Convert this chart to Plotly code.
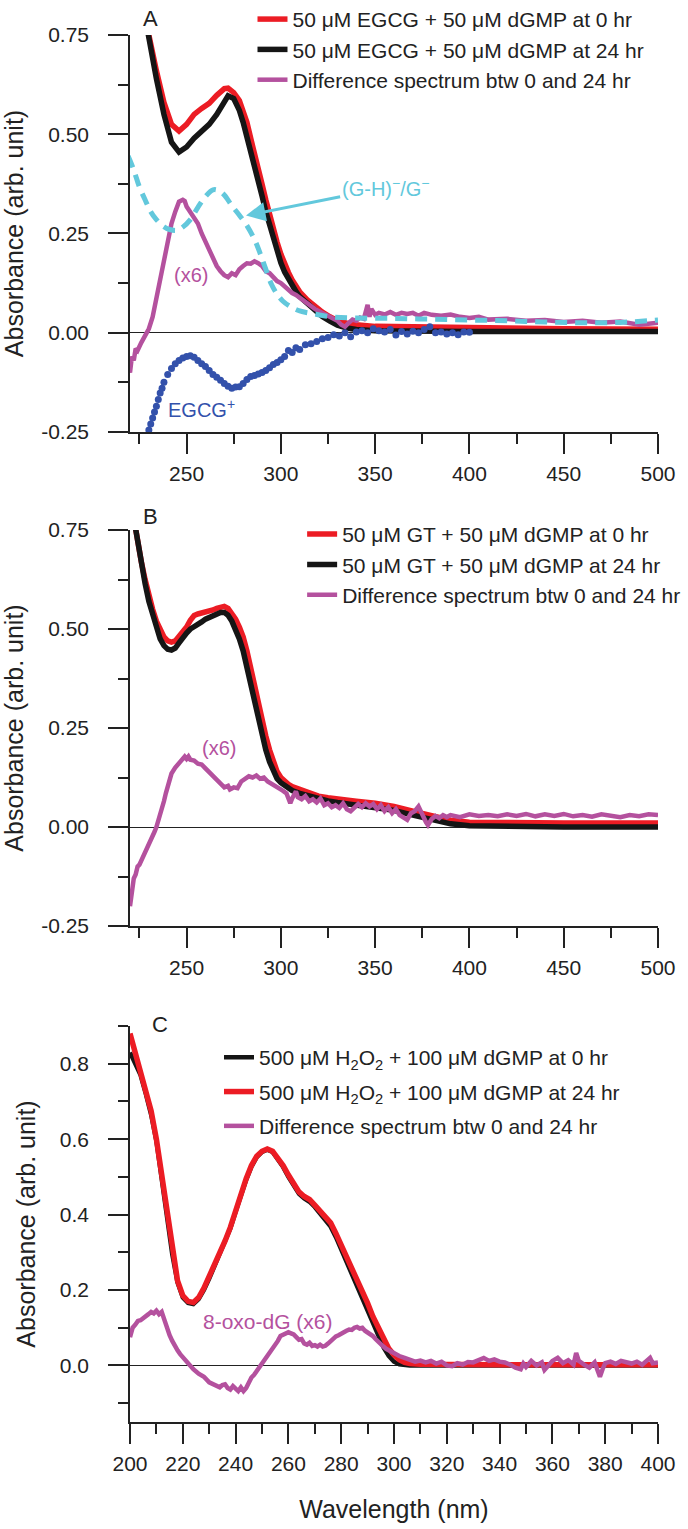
import plotly.graph_objects as go

# ---------------- Panel A data ----------------
wl_A_main = [222, 226, 230, 234, 238, 242, 246, 250, 254, 258, 262, 266, 270, 272, 275, 278, 280, 282, 284, 286,
             288, 290, 292, 294, 296, 298, 300, 302, 304, 306, 308, 310, 314, 318, 322, 326, 330, 335, 340, 350,
             360, 380, 400, 420, 450, 500]
A_red_0hr = [0.95, 0.84, 0.75, 0.66, 0.58, 0.525, 0.508, 0.525, 0.55, 0.565, 0.578, 0.598, 0.615, 0.616, 0.605,
             0.585, 0.56, 0.53, 0.49, 0.455, 0.415, 0.375, 0.335, 0.295, 0.26, 0.228, 0.198, 0.172, 0.152, 0.133,
             0.117, 0.103, 0.083, 0.066, 0.052, 0.04, 0.031, 0.024, 0.02, 0.016, 0.015, 0.013, 0.013, 0.012,
             0.01, 0.009]
A_black_24hr = [0.95, 0.84, 0.74, 0.64, 0.55, 0.48, 0.455, 0.468, 0.49, 0.51, 0.525, 0.55, 0.585, 0.597, 0.59,
                0.56, 0.53, 0.495, 0.455, 0.42, 0.383, 0.345, 0.305, 0.27, 0.24, 0.207, 0.176, 0.153, 0.135,
                0.118, 0.104, 0.091, 0.073, 0.056, 0.041, 0.029, 0.019, 0.012, 0.008, 0.005, 0.004, 0.003,
                0.003, 0.003, 0.003, 0.003]

wl_A_diff = [219, 220, 221, 222, 223, 224, 226, 228, 230, 232, 234, 236, 238, 240, 242, 244, 246, 248, 249, 250,
             252, 254, 256, 258, 260, 262, 264, 266, 268, 270, 272, 274, 276, 278, 280, 282, 284, 286, 288, 290,
             292, 294, 296, 298, 300, 302, 304, 306, 308, 310, 312, 314, 316, 318, 320, 322, 324, 326, 328, 330,
             332, 334, 336, 338, 340, 342, 344, 346, 347, 348, 350, 352, 355, 358, 361, 364, 367, 370, 373, 376,
             380, 385, 390, 395, 400, 405, 410, 420, 430, 440, 450, 460, 470, 480, 490, 500]
A_diff_x6 = [-0.09, -0.10, -0.06, -0.07, -0.04, -0.045, -0.025, -0.01, 0.01, 0.04, 0.085, 0.135, 0.185, 0.23,
             0.275, 0.305, 0.33, 0.335, 0.332, 0.318, 0.305, 0.29, 0.275, 0.25, 0.23, 0.205, 0.185, 0.168, 0.155,
             0.145, 0.14, 0.15, 0.145, 0.16, 0.168, 0.175, 0.174, 0.18, 0.175, 0.168, 0.155, 0.15, 0.14, 0.13,
             0.125, 0.116, 0.11, 0.10, 0.095, 0.088, 0.08, 0.072, 0.065, 0.06, 0.055, 0.05, 0.048, 0.04, 0.035,
             0.03, 0.02, 0.015, 0.025, 0.033, 0.03, 0.038, 0.035, 0.07, 0.04, 0.06, 0.045, 0.05, 0.046, 0.052,
             0.045, 0.05, 0.047, 0.05, 0.043, 0.05, 0.045, 0.043, 0.046, 0.04, 0.037, 0.04, 0.033, 0.035, 0.03,
             0.032, 0.027, 0.03, 0.025, 0.028, 0.02, 0.025]

wl_A_anion = [219, 222, 225, 228, 231, 234, 238, 241, 245, 248, 252, 256, 260, 264, 267, 270, 274, 278, 282, 286,
              289, 292, 295, 298, 301, 305, 310, 317, 327, 340, 360, 380, 400, 420, 440, 460, 480, 500]
A_anion = [0.445, 0.41, 0.367, 0.335, 0.305, 0.285, 0.267, 0.26, 0.258, 0.266, 0.285, 0.316, 0.343, 0.36, 0.358,
           0.347, 0.32, 0.296, 0.27, 0.235, 0.20, 0.16, 0.122, 0.097, 0.08, 0.066, 0.055, 0.048, 0.04, 0.037,
           0.036, 0.034, 0.032, 0.03, 0.027, 0.025, 0.026, 0.032]

wl_A_cation = [230, 231, 232, 233, 234, 235, 236, 237, 238, 240, 242, 244, 246, 248, 250, 252, 254, 256, 258, 260,
               262, 264, 266, 268, 270, 272, 274, 276, 278, 280, 282, 284, 286, 288, 290, 292, 294, 296, 298, 300,
               302, 304, 306, 308, 310, 313, 316, 319, 322, 325, 328, 331, 334, 337, 340, 343, 346, 349, 352, 355,
               358, 361, 364, 367, 370, 373, 376, 379, 382, 385, 388, 391, 394, 397, 400]
A_cation = [-0.245, -0.23, -0.215, -0.2, -0.185, -0.168, -0.152, -0.14, -0.125, -0.105, -0.09, -0.078, -0.07,
            -0.064, -0.06, -0.058, -0.062, -0.07, -0.078, -0.085, -0.095, -0.105, -0.112, -0.12, -0.128, -0.135,
            -0.14, -0.137, -0.136, -0.128, -0.118, -0.11, -0.108, -0.104, -0.1, -0.095, -0.088, -0.08, -0.075,
            -0.068, -0.06, -0.045, -0.05, -0.038, -0.042, -0.03, -0.028, -0.022, -0.015, -0.012, -0.005, -0.008,
            0.0, -0.01, 0.002, 0.005, 0.0, 0.01, 0.005, 0.002, 0.008, -0.006, 0.003, -0.003, 0.004, 0.0, 0.008,
            0.015, 0.0, 0.002, -0.003, 0.0, -0.005, 0.002, 0.001]

# ---------------- Panel B data ----------------
wl_B_main = [222, 224, 226, 228, 230, 232, 234, 236, 238, 240, 242, 244, 246, 248, 250, 252, 254, 256, 258, 260,
             262, 264, 266, 268, 270, 272, 274, 276, 278, 280, 282, 284, 286, 288, 290, 292, 294, 296, 298, 300,
             302, 304, 306, 310, 315, 320, 325, 330, 340, 350, 360, 370, 380, 390, 400, 420, 450, 500]
B_red_0hr = [0.78, 0.72, 0.67, 0.625, 0.585, 0.55, 0.52, 0.497, 0.48, 0.47, 0.467, 0.47, 0.48, 0.49, 0.505, 0.522,
             0.534, 0.538, 0.54, 0.542, 0.545, 0.548, 0.552, 0.556, 0.557, 0.552, 0.54, 0.525, 0.505, 0.48, 0.445,
             0.40, 0.355, 0.31, 0.27, 0.23, 0.195, 0.165, 0.14, 0.125, 0.115, 0.108, 0.102, 0.095, 0.085, 0.078,
             0.074, 0.07, 0.065, 0.06, 0.052, 0.04, 0.028, 0.017, 0.012, 0.01, 0.01, 0.01]
B_black_24hr = [0.78, 0.72, 0.665, 0.615, 0.57, 0.535, 0.50, 0.475, 0.458, 0.449, 0.447, 0.452, 0.465, 0.48, 0.49,
                0.50, 0.505, 0.51, 0.518, 0.525, 0.53, 0.535, 0.538, 0.542, 0.542, 0.535, 0.52, 0.50, 0.475, 0.445,
                0.405, 0.36, 0.315, 0.27, 0.23, 0.195, 0.165, 0.14, 0.122, 0.112, 0.105, 0.098, 0.092, 0.085,
                0.078, 0.07, 0.066, 0.062, 0.056, 0.05, 0.042, 0.03, 0.018, 0.008, 0.003, 0.001, 0.0, 0.0]

wl_B_diff = [220, 221, 222, 223, 224, 225, 226, 227, 228, 229, 230, 231, 232, 233, 234, 235, 236, 237, 238, 239,
             240, 241, 242, 244, 246, 248, 249, 250, 251, 252, 254, 256, 258, 260, 262, 264, 266, 268, 270, 272,
             273, 275, 277, 279, 281, 283, 285, 287, 289, 291, 293, 295, 297, 299, 301, 303, 305, 306, 308, 309,
             311, 313, 315, 317, 319, 321, 323, 325, 327, 329, 331, 333, 335, 337, 339, 341, 343, 345, 347, 349,
             351, 353, 355, 357, 359, 361, 363, 365, 367, 369, 371, 373, 375, 377, 378, 380, 382, 384, 386, 388,
             390, 395, 400, 405, 410, 415, 420, 425, 430, 435, 440, 445, 450, 455, 460, 465, 470, 475, 480, 485,
             490, 495, 500]
B_diff_x6 = [-0.20, -0.17, -0.13, -0.12, -0.10, -0.095, -0.085, -0.075, -0.068, -0.055, -0.045, -0.035, -0.022,
             -0.012, 0.0, 0.015, 0.03, 0.048, 0.065, 0.085, 0.105, 0.12, 0.135, 0.15, 0.162, 0.172, 0.178, 0.172,
             0.178, 0.17, 0.168, 0.16, 0.158, 0.148, 0.138, 0.128, 0.118, 0.108, 0.10, 0.104, 0.095, 0.10, 0.098,
             0.115, 0.122, 0.128, 0.125, 0.13, 0.122, 0.125, 0.115, 0.11, 0.105, 0.098, 0.092, 0.085, 0.06, 0.072,
             0.09, 0.075, 0.07, 0.078, 0.065, 0.07, 0.062, 0.072, 0.055, 0.06, 0.05, 0.055, 0.048, 0.06, 0.045,
             0.04, 0.05, 0.058, 0.05, 0.06, 0.052, 0.058, 0.045, 0.055, 0.04, 0.05, 0.035, 0.045, 0.03, 0.025,
             0.018, 0.035, 0.04, 0.052, 0.03, 0.012, 0.005, 0.02, 0.028, 0.022, 0.03, 0.025, 0.03, 0.025, 0.032,
             0.028, 0.03, 0.027, 0.032, 0.028, 0.033, 0.027, 0.032, 0.028, 0.033, 0.027, 0.03, 0.026, 0.032,
             0.028, 0.025, 0.03, 0.027, 0.032, 0.03]

# ---------------- Panel C data ----------------
wl_C_main = [200, 202, 204, 206, 208, 210, 212, 214, 216, 218, 220, 222, 224, 226, 228, 230, 232, 234, 236, 238,
             240, 242, 244, 246, 248, 250, 252, 254, 256, 258, 260, 262, 264, 266, 268, 270, 272, 274, 276, 278,
             280, 282, 284, 286, 288, 290, 292, 294, 296, 298, 300, 302, 304, 306, 310, 320, 340, 360, 380, 400]
C_black_0hr = [0.83, 0.80, 0.77, 0.72, 0.665, 0.595, 0.495, 0.395, 0.295, 0.22, 0.18, 0.166, 0.163, 0.176, 0.20,
               0.23, 0.262, 0.294, 0.327, 0.363, 0.407, 0.452, 0.492, 0.527, 0.552, 0.566, 0.572, 0.566, 0.547,
               0.526, 0.50, 0.477, 0.455, 0.443, 0.434, 0.42, 0.404, 0.388, 0.368, 0.34, 0.308, 0.272, 0.24,
               0.208, 0.18, 0.145, 0.11, 0.078, 0.048, 0.025, 0.01, 0.003, 0.001, 0.0, 0.0, 0.0, 0.0, 0.0, 0.0, 0.0]
C_red_24hr = [0.88, 0.83, 0.785, 0.73, 0.675, 0.60, 0.50, 0.40, 0.30, 0.225, 0.185, 0.17, 0.167, 0.18, 0.205,
              0.235, 0.265, 0.297, 0.33, 0.366, 0.41, 0.455, 0.495, 0.53, 0.555, 0.568, 0.574, 0.568, 0.55, 0.53,
              0.505, 0.482, 0.46, 0.448, 0.44, 0.425, 0.41, 0.395, 0.378, 0.35, 0.32, 0.285, 0.255, 0.225, 0.20,
              0.165, 0.13, 0.10, 0.07, 0.045, 0.028, 0.015, 0.008, 0.005, 0.003, 0.002, 0.002, 0.002, 0.002, 0.002]

wl_C_diff = [200, 201, 202, 203, 204, 205, 206, 207, 208, 209, 210, 211, 212, 213, 214, 215, 216, 217, 218, 219,
             220, 221, 222, 223, 224, 226, 228, 230, 232, 234, 235, 236, 237, 238, 239, 240, 241, 242, 243, 244,
             245, 246, 247, 248, 249, 250, 251, 252, 253, 254, 255, 256, 257, 258, 259, 260, 261, 262, 263, 264,
             265, 266, 267, 268, 269, 270, 271, 272, 273, 274, 275, 276, 277, 278, 279, 280, 281, 282, 283, 284,
             285, 286, 287, 288, 289, 290, 291, 292, 293, 294, 295, 296, 297, 298, 299, 300, 302, 304, 306, 308,
             310, 312, 314, 316, 318, 320, 322, 324, 326, 328, 330, 332, 334, 336, 338, 340, 342, 344, 346, 348,
             349, 350, 352, 354, 356, 357, 358, 360, 362, 364, 366, 368, 369, 370, 372, 374, 376, 378, 379, 380,
             382, 384, 386, 388, 390, 392, 394, 396, 397, 398, 400]
C_diff_x6 = [0.075, 0.10, 0.108, 0.118, 0.12, 0.125, 0.128, 0.136, 0.142, 0.138, 0.145, 0.136, 0.142, 0.118, 0.10,
             0.08, 0.065, 0.05, 0.04, 0.03, 0.022, 0.016, 0.005, -0.002, -0.01, -0.022, -0.03, -0.045, -0.05,
             -0.058, -0.052, -0.05, -0.06, -0.064, -0.055, -0.062, -0.068, -0.058, -0.068, -0.06, -0.045, -0.032,
             -0.025, -0.015, -0.005, 0.005, 0.012, 0.022, 0.03, 0.04, 0.05, 0.065, 0.078, 0.082, 0.086, 0.088,
             0.085, 0.082, 0.075, 0.068, 0.07, 0.058, 0.055, 0.06, 0.052, 0.054, 0.05, 0.055, 0.05, 0.052, 0.058,
             0.065, 0.072, 0.077, 0.08, 0.085, 0.088, 0.092, 0.095, 0.094, 0.10, 0.102, 0.098, 0.10, 0.092, 0.088,
             0.083, 0.078, 0.07, 0.062, 0.055, 0.05, 0.044, 0.04, 0.035, 0.033, 0.025, 0.02, 0.015, 0.01, 0.013,
             0.008, 0.012, 0.005, 0.01, 0.0, -0.002, 0.006, 0.002, 0.009, 0.008, 0.014, 0.02, 0.012, 0.016, 0.01,
             0.008, 0.002, -0.006, -0.01, 0.005, -0.004, 0.012, 0.0, 0.008, -0.012, -0.004, 0.012, 0.02, 0.006,
             0.014, 0.002, 0.033, 0.012, 0.002, -0.006, 0.008, -0.03, -0.01, 0.006, 0.01, 0.004, 0.012, 0.008,
             0.005, 0.01, 0.002, 0.014, 0.02, 0.006, 0.008]

# ---------------- Axis ticks / labels ----------------
x_ticks_AB = [250, 300, 350, 400, 450, 500]
x_ticklabels_AB = ["250", "300", "350", "400", "450", "500"]
x_minor_AB = [225, 275, 325, 375, 425, 475]
y_ticks_AB = [-0.25, 0.0, 0.25, 0.5, 0.75]
y_ticklabels_AB = ["-0.25", "0.00", "0.25", "0.50", "0.75"]
y_minor_AB = [-0.125, 0.125, 0.375, 0.625]
x_ticks_C = [200, 220, 240, 260, 280, 300, 320, 340, 360, 380, 400]
x_ticklabels_C = [str(v) for v in x_ticks_C]
x_minor_C = [210, 230, 250, 270, 290, 310, 330, 350, 370, 390]
y_ticks_C = [0.0, 0.2, 0.4, 0.6, 0.8]
y_ticklabels_C = ["0.0", "0.2", "0.4", "0.6", "0.8"]
y_minor_C = [-0.1, 0.1, 0.3, 0.5, 0.7, 0.9]

RED = "#ec1c24"
BLACK = "#151515"
MAGENTA = "#b4519e"
CYAN = "#62c8dc"
BLUE = "#3351ab"
AX = "#222222"
FONT = "Liberation Sans, Arial, Helvetica, sans-serif"

fig = go.Figure()

# Panel A
fig.add_trace(go.Scatter(x=wl_A_main, y=A_red_0hr, mode="lines", line=dict(color=RED, width=5.5),
                         name="50 μM EGCG + 50 μM dGMP at 0 hr", xaxis="x", yaxis="y", legend="legend"))
fig.add_trace(go.Scatter(x=wl_A_main, y=A_black_24hr, mode="lines", line=dict(color=BLACK, width=5.5),
                         name="50 μM EGCG + 50 μM dGMP at 24 hr", xaxis="x", yaxis="y", legend="legend"))
fig.add_trace(go.Scatter(x=wl_A_diff, y=A_diff_x6, mode="lines", line=dict(color=MAGENTA, width=4.5),
                         name="Difference spectrum btw 0 and 24 hr", xaxis="x", yaxis="y", legend="legend"))
fig.add_trace(go.Scatter(x=wl_A_anion, y=A_anion, mode="lines", line=dict(color=CYAN, width=5, dash="12px,8px",
                         shape="spline"), name="(G-H)⁻/G⁻", showlegend=False, xaxis="x", yaxis="y"))
fig.add_trace(go.Scatter(x=wl_A_cation, y=A_cation, mode="markers", marker=dict(color=BLUE, size=7),
                         name="EGCG⁺", showlegend=False, xaxis="x", yaxis="y"))

# Panel B
fig.add_trace(go.Scatter(x=wl_B_main, y=B_red_0hr, mode="lines", line=dict(color=RED, width=5.5),
                         name="50 μM GT + 50 μM dGMP at 0 hr", xaxis="x2", yaxis="y2", legend="legend2"))
fig.add_trace(go.Scatter(x=wl_B_main, y=B_black_24hr, mode="lines", line=dict(color=BLACK, width=5.5),
                         name="50 μM GT + 50 μM dGMP at 24 hr", xaxis="x2", yaxis="y2", legend="legend2"))
fig.add_trace(go.Scatter(x=wl_B_diff, y=B_diff_x6, mode="lines", line=dict(color=MAGENTA, width=4.5),
                         name="Difference spectrum btw 0 and 24 hr", xaxis="x2", yaxis="y2", legend="legend2"))

# Panel C
fig.add_trace(go.Scatter(x=wl_C_main, y=C_black_0hr, mode="lines", line=dict(color=BLACK, width=4.5),
                         name="500 μM H<sub>2</sub>O<sub>2</sub> + 100 μM dGMP at 0 hr", xaxis="x3", yaxis="y3",
                         legend="legend3", legendrank=1, legendgroup="c1"))
fig.add_trace(go.Scatter(x=wl_C_main, y=C_red_24hr, mode="lines", line=dict(color=RED, width=5.5),
                         name="500 μM H<sub>2</sub>O<sub>2</sub> + 100 μM dGMP at 24 hr", xaxis="x3", yaxis="y3",
                         legend="legend3", legendrank=2, legendgroup="c2"))
fig.add_trace(go.Scatter(x=wl_C_diff, y=C_diff_x6, mode="lines", line=dict(color=MAGENTA, width=4.5),
                         name="Difference spectrum btw 0 and 24 hr", xaxis="x3", yaxis="y3",
                         legend="legend3", legendrank=3, legendgroup="c3"))

tickfont = dict(family=FONT, size=21, color=AX)
titlefont = dict(family=FONT, size=25, color=AX)


def xaxis(anchor, rng, tv, tt, minor, title=None):
    d = dict(anchor=anchor, domain=[0, 1], range=rng, showline=True, linecolor=AX, linewidth=1.5,
             ticks="outside", ticklen=20, tickwidth=1.5, tickcolor=AX, tickvals=tv, ticktext=tt,
             tickfont=tickfont, showgrid=False, zeroline=False, ticklabelstandoff=2, automargin=False,
             minor=dict(tickvals=minor, ticks="outside", ticklen=10, tickwidth=1.5, tickcolor=AX, showgrid=False))
    if title:
        d["title"] = dict(text=title, font=titlefont, standoff=27)
    return d


def yaxis(domain, anchor, rng, tv, tt, minor):
    return dict(anchor=anchor, domain=domain, range=rng, showline=True, linecolor=AX, linewidth=1.5,
                ticks="outside", ticklen=20, tickwidth=1.5, tickcolor=AX, tickvals=tv, ticktext=tt,
                tickfont=tickfont, showgrid=False, zeroline=True, zerolinecolor=AX, zerolinewidth=1.2,
                ticklabelstandoff=15, automargin=False,
                title=dict(text="Absorbance (arb. unit)", font=titlefont, standoff=17),
                minor=dict(tickvals=minor, ticks="outside", ticklen=10, tickwidth=1.5, tickcolor=AX,
                           showgrid=False))


legfont = dict(family=FONT, size=21, color=AX)

fig.update_layout(
    width=688, height=1529,
    margin=dict(l=130, r=30, t=35, b=107, autoexpand=False),
    paper_bgcolor="white", plot_bgcolor="white",
    font=dict(family=FONT, color=AX),
    xaxis=xaxis("y", [220, 500], x_ticks_AB, x_ticklabels_AB, x_minor_AB),
    yaxis=yaxis([0.7138, 1.0], "x", [-0.25, 0.75], y_ticks_AB, y_ticklabels_AB, y_minor_AB),
    xaxis2=xaxis("y2", [220, 500], x_ticks_AB, x_ticklabels_AB, x_minor_AB),
    yaxis2=yaxis([0.3576, 0.6431], "x2", [-0.25, 0.75], y_ticks_AB, y_ticklabels_AB, y_minor_AB),
    xaxis3=xaxis("y3", [200, 400], x_ticks_C, x_ticklabels_C, x_minor_C, title="Wavelength (nm)"),
    yaxis3=yaxis([0.0, 0.2855], "x3", [-0.15, 0.9], y_ticks_C, y_ticklabels_C, y_minor_C),
    legend=dict(x=0.232, y=1.026, xanchor="left", yanchor="top", font=legfont, bgcolor="rgba(0,0,0,0)",
                borderwidth=0, tracegroupgap=0),
    legend2=dict(x=0.326, y=0.6547, xanchor="left", yanchor="top", font=legfont, bgcolor="rgba(0,0,0,0)",
                 borderwidth=0, tracegroupgap=0),
    legend3=dict(x=0.1686, y=0.2775, xanchor="left", yanchor="top", font=legfont, bgcolor="rgba(0,0,0,0)",
                 borderwidth=0, tracegroupgap=4, traceorder="grouped"),
    showlegend=True,
)

annotations = [
    dict(text="(x6)", x=252.1, y=0.145, xref="x", yref="y", showarrow=False,
         font=dict(family=FONT, size=20, color=MAGENTA)),
    dict(text="EGCG<sup>+</sup>", x=257.7, y=-0.19, xref="x", yref="y", showarrow=False,
         font=dict(family=FONT, size=20, color=BLUE)),
    dict(text="(G-H)<sup>−</sup>/G<sup>−</sup>", x=281.5, y=0.295, ax=355.3, ay=0.365,
         xref="x", yref="y", axref="x", ayref="y", showarrow=True, arrowhead=2, arrowsize=1.3,
         arrowwidth=3, arrowcolor=CYAN, font=dict(family=FONT, size=20, color=CYAN)),
    dict(text="(x6)", x=267.2, y=0.20, xref="x2", yref="y2", showarrow=False,
         font=dict(family=FONT, size=20, color=MAGENTA)),
    dict(text="8-oxo-dG (x6)", x=252.3, y=0.116, xref="x3", yref="y3", showarrow=False,
         font=dict(family=FONT, size=21, color=MAGENTA)),
]
plot_w, plot_h = 688 - 130 - 30, 1529 - 35 - 107
letters = [("A", 150, 18), ("B", 150, 516), ("C", 160, 1024)]
for txt, px, py in letters:
    annotations.append(dict(text=txt, x=(px - 130) / plot_w, y=(1529 - 107 - py) / plot_h, xref="paper",
                            yref="paper", xanchor="center", yanchor="middle", showarrow=False,
                            font=dict(family=FONT, size=22, color=AX)))
fig.update_layout(annotations=annotations)

fig.write_html("out.html", config={"displayModeBar": False},
               post_script="document.body.style.margin='0';document.documentElement.style.margin='0';")
